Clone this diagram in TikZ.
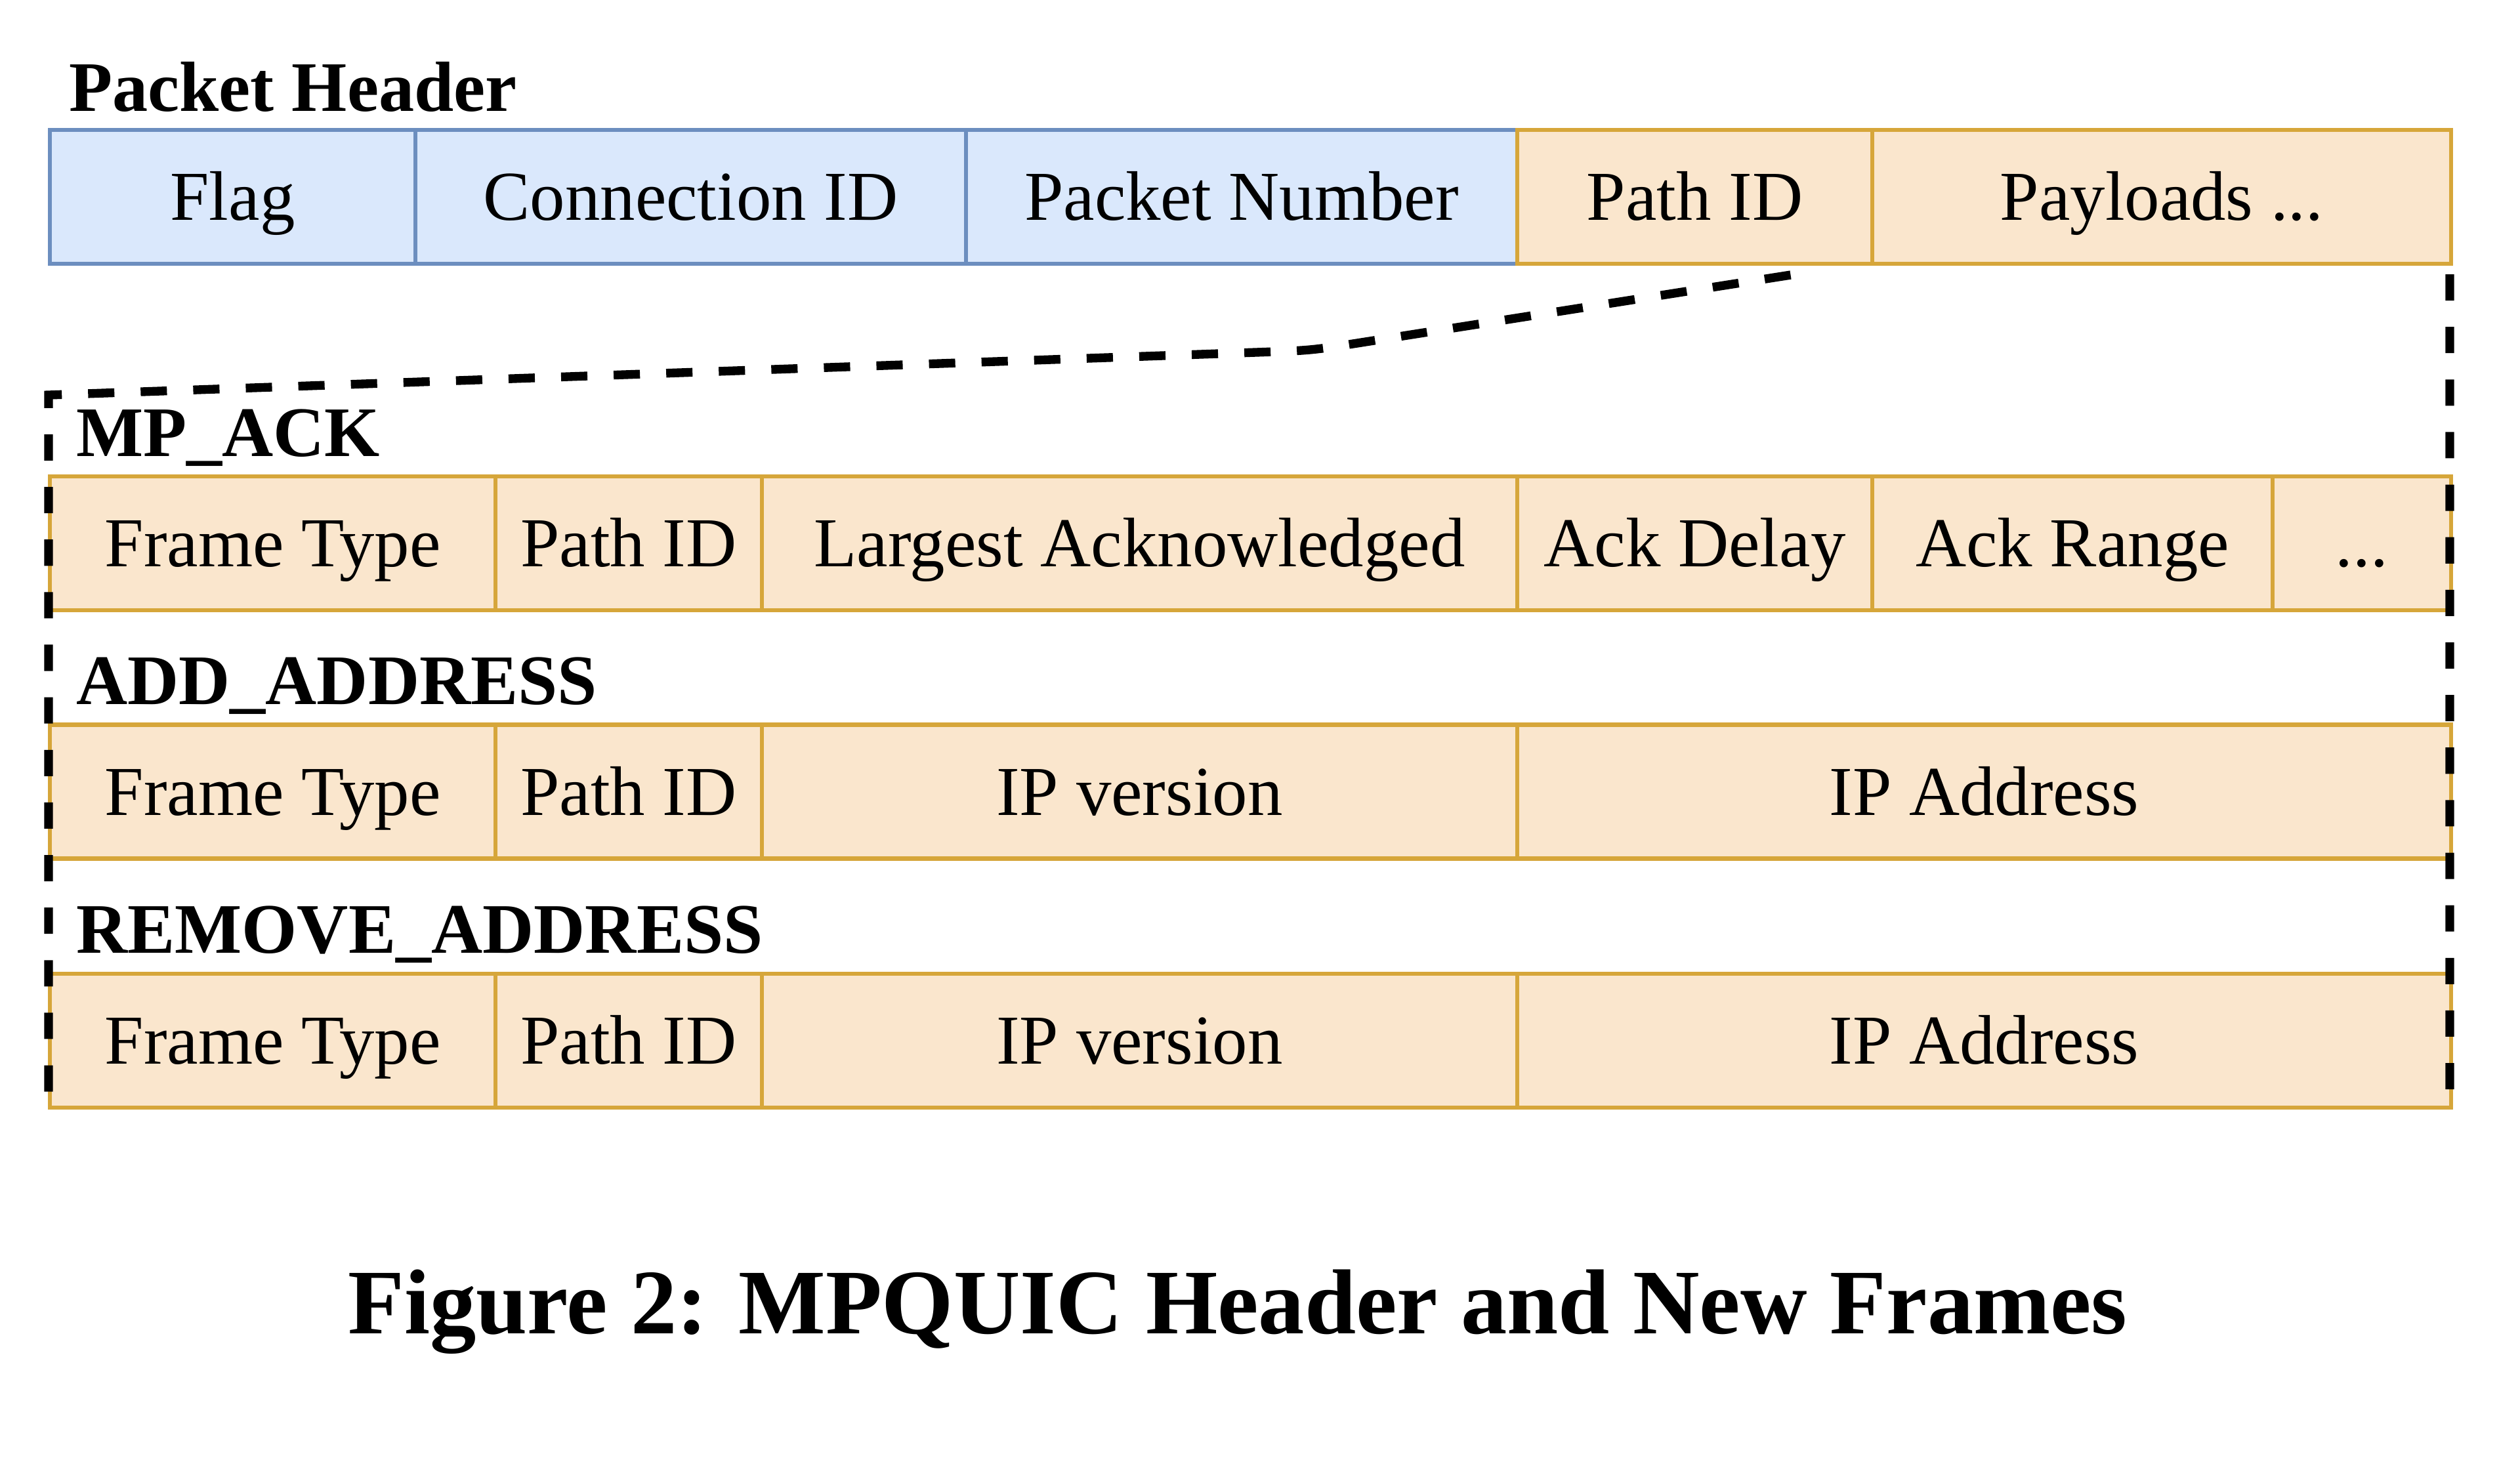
\documentclass[tikz,border=0pt]{standalone}
\usepackage{fontspec}
\setmainfont{Liberation Serif}
\usepackage{tikz}
\usetikzlibrary{positioning,calc}
\definecolor{hdrfill}{HTML}{DAE8FC}
\definecolor{hdrline}{HTML}{6C8EBF}
\definecolor{frmfill}{HTML}{FAE6CD}
\definecolor{frmline}{HTML}{D6A63A}
\newcommand*{\cellfont}{\fontsize{15.2}{18}\selectfont}

\begin{document}
\begin{tikzpicture}[node distance=0pt, line width=0.9pt]
    \tikzstyle{field}=[draw, outer sep=0pt, inner sep=0pt, minimum height=1.02cm, text height=10.1pt, text depth=0pt, font=\cellfont]
    \tikzstyle{hdr}=[field, fill=hdrfill, draw=hdrline]
    \tikzstyle{frm}=[field, fill=frmfill, draw=frmline]
    \tikzstyle{title}=[anchor=base west, inner sep=0pt, font=\fontsize{15.4}{18}\selectfont\bfseries]
    \tikzstyle{zoom}=[draw=black, line width=1.9pt, dash pattern=on 5.7pt off 5.7pt]
    \useasboundingbox (0,0) rectangle (19.2,-11.105);
    \node[hdr, minimum width=2.785cm, anchor=west] (H1) at (0.38,-1.5) {Flag};
    \node[hdr, minimum width=4.195cm] (H2) [right=of H1] {Connection ID};
    \node[hdr, minimum width=4.2cm]   (H3) [right=of H2] {Packet Number};
    \node[frm, minimum width=2.705cm] (H4) [right=of H3] {Path ID};
    \node[frm, minimum width=4.41cm]  (H5) [right=of H4] {Payloads ...};
    \node[frm, minimum width=3.395cm, anchor=west] (M1) at (0.38,-4.14) {Frame Type};
    \node[frm, minimum width=2.03cm]  (M2) [right=of M1] {Path ID};
    \node[frm, minimum width=5.755cm] (M3) [right=of M2] {Largest Acknowledged};
    \node[frm, minimum width=2.705cm] (M4) [right=of M3] {Ack Delay};
    \node[frm, minimum width=3.05cm]  (M5) [right=of M4] {Ack Range};
    \node[frm, minimum width=1.36cm]  (M6) [right=of M5] {...};
    \node[frm, minimum width=3.395cm, anchor=west] (A1) at (0.38,-6.0325) {Frame Type};
    \node[frm, minimum width=2.03cm]  (A2) [right=of A1] {Path ID};
    \node[frm, minimum width=5.755cm] (A3) [right=of A2] {IP version};
    \node[frm, minimum width=7.115cm] (A4) [right=of A3] {IP Address};
    \node[frm, minimum width=3.395cm, anchor=west] (R1) at (0.38,-7.93) {Frame Type};
    \node[frm, minimum width=2.03cm]  (R2) [right=of R1] {Path ID};
    \node[frm, minimum width=5.755cm] (R3) [right=of R2] {IP version};
    \node[frm, minimum width=7.115cm] (R4) [right=of R3] {IP Address};
    \node[title] (T1) at ($(H1.north west)+(0.13,0.145)$) {Packet Header};
    \node[title] (T2) at ($(M1.north west)+(0.185,0.155)$) {MP\_ACK};
    \node[title] (T3) at ($(A1.north west)+(0.185,0.155)$) {ADD\_ADDRESS};
    \node[title] (T4) at ($(R1.north west)+(0.185,0.16)$) {REMOVE\_ADDRESS};
    \coordinate (Z1) at ($(H4.south)+(0.73,-0.085)$);
    \coordinate (Z2) at (9.99,-2.67);
    \coordinate (Z3) at ($(M1.north west)+(-0.01,0.62)$);
    \coordinate (Z4) at ($(R1.south west)+(-0.01,-0.01)$);
    \coordinate (Z5) at ($(H5.south east)+(-0.01,-0.08)$);
    \coordinate (Z6) at ($(R4.south east)+(-0.01,-0.01)$);
    \draw[zoom] (Z1) -- ($(Z2)!0.4cm!(Z1)$) .. controls (Z2) .. ($(Z2)!0.4cm!(Z3)$) -- (Z3) -- (Z4);
    \draw[zoom] (Z5) -- (Z6);
    \node[anchor=base, inner sep=0pt, font=\fontsize{20}{24}\selectfont\bfseries] (C) at (9.43,-10.16) {Figure 2: MPQUIC Header and New Frames};
\end{tikzpicture}
\end{document}
